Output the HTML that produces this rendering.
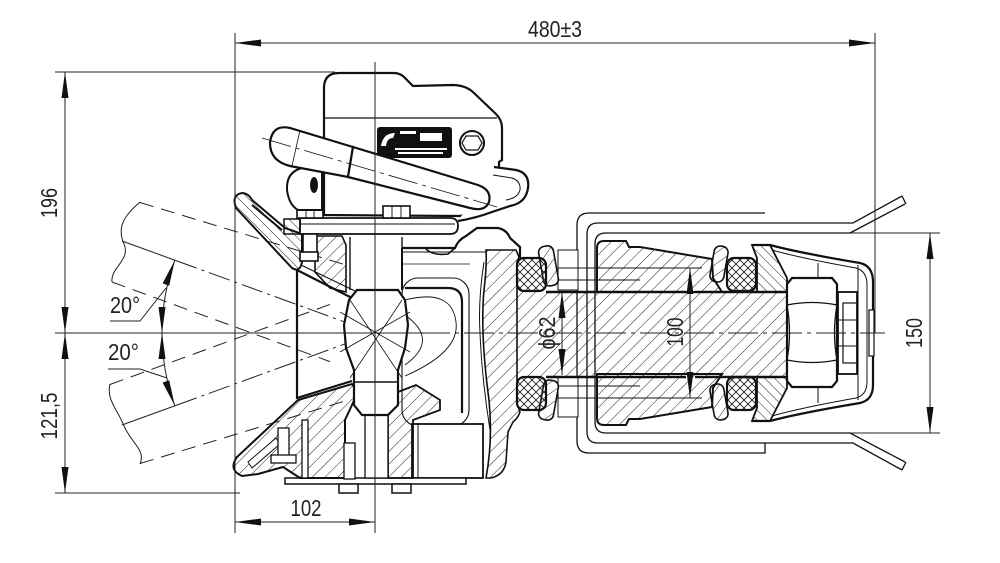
<!DOCTYPE html>
<html><head><meta charset="utf-8"><style>html,body{margin:0;padding:0;background:#fff}svg{display:block}</style></head>
<body>
<svg width="1000" height="563" viewBox="0 0 1000 563" xmlns="http://www.w3.org/2000/svg">
<defs>
<pattern id="h1" patternUnits="userSpaceOnUse" width="9" height="9" patternTransform="rotate(45)"><line x1="0" y1="0" x2="0" y2="9" stroke="#222" stroke-width="1"/></pattern>
<pattern id="h2" patternUnits="userSpaceOnUse" width="7" height="7" patternTransform="rotate(-45)"><line x1="0" y1="0" x2="0" y2="7" stroke="#222" stroke-width="1"/></pattern>
<pattern id="hx" patternUnits="userSpaceOnUse" width="8" height="8"><path d="M0 0L8 8M8 0L0 8" stroke="#222" stroke-width="0.9"/></pattern>
</defs>
<rect width="1000" height="563" fill="#fff"/>

<!-- drawbar ghost lines -->
<g stroke="#222" stroke-width="1" fill="none">
<path d="M140 202 C126 214 116 226 124 244 C131 260 110 268 112 282"/>
<path d="M110 384 C106 400 118 410 124 426 C132 444 146 450 140 464"/>
<g stroke-dasharray="14 8">
<line x1="140" y1="202.5" x2="345" y2="264.7"/>
<line x1="112" y1="282" x2="330" y2="361.6"/>
<line x1="110" y1="384.5" x2="330" y2="304.4"/>
<line x1="140" y1="463.5" x2="345" y2="401"/>
</g>
<line x1="122" y1="241" x2="176" y2="260.6"/>
<line x1="122" y1="425" x2="176" y2="405.4"/>
<g stroke-dasharray="22 5 3 5">
<line x1="176" y1="260.6" x2="375" y2="333"/>
<line x1="176" y1="405.4" x2="375" y2="333"/>
</g>
</g>

<!-- bracket U lines -->
<g stroke="#111" stroke-width="1.3" fill="none">
<path d="M765 213 L589 213 Q577 213 577 225 L577 441 Q577 453 589 453 L765 453 L765 443"/>
<path d="M765 223 L598 223 Q587 223 587 234 L587 432 Q587 443 598 443 L853 443 L902 470"/>
<path d="M765 223 L853 223 L902 196"/>
<path d="M850 233 L606 233 Q595 233 595 244 L595 422 Q595 433 606 433 L850 433 L905 462"/>
<path d="M850 233 L905 204"/>
<path d="M902 196 L906 204 M902 470 L906 462"/>
</g>

<!-- body top lip -->
<path d="M402 248 L455 248 Q458 240 466 236 L477 228 L498 228 Q507 230 510 238 L520 247 L520 258" fill="#fff" stroke="#111" stroke-width="2.2"/>
<path d="M425 248 Q432 256 448 254 L455 248" fill="none" stroke="#111" stroke-width="1.6"/>
<line x1="402" y1="252" x2="486" y2="252" stroke="#111" stroke-width="0.9"/>
<line x1="402" y1="248" x2="402" y2="290" stroke="#111" stroke-width="2"/>
<line x1="402" y1="264" x2="470" y2="264" stroke="#111" stroke-width="0.8"/>
<!-- body hatched -->
<path d="M486 250 L516 250 L519 257 L517 262 L517 404 L520 412 Q518 418 513 422 L508 432 L506 462 Q504 475 491 478 L486 478 Q493 440 489 400 Q480 333 484 290 Q487 265 486 250 Z" fill="url(#h1)" stroke="#111" stroke-width="1.6"/>
<path d="M484 262 Q478 300 480 333 Q482 380 490 430" fill="none" stroke="#111" stroke-width="1"/>
<!-- shaft -->
<rect x="517" y="292" width="272" height="85" fill="url(#h1)"/>
<!-- sleeves -->
<path d="M597 292 L597 248 Q597 241 604 241 L626 241 L629 247 L640 247 L712 259 L713 278 L722 292 Z" fill="url(#h1)" stroke="#111" stroke-width="2"/>
<path d="M597 374 L597 418 Q597 425 604 425 L626 425 L629 419 L640 419 L712 407 L713 388 L722 374 Z" fill="url(#h1)" stroke="#111" stroke-width="2"/>
<g fill="#fff" stroke="#111" stroke-width="1">
<rect x="558" y="250" width="20" height="40"/><rect x="558" y="377" width="20" height="40"/>
<line x1="558" y1="268" x2="702" y2="268"/><line x1="558" y1="280" x2="640" y2="280"/>
<line x1="558" y1="398" x2="702" y2="398"/><line x1="558" y1="386" x2="640" y2="386"/>
</g>
<g fill="url(#h1)" stroke="#111" stroke-width="1.6">
<rect x="541" y="246" width="15" height="40" rx="6" transform="rotate(-10 548 266)"/>
<rect x="541" y="380" width="15" height="40" rx="6" transform="rotate(10 548 400)"/>
<rect x="712" y="246" width="14" height="36" rx="6" transform="rotate(10 719 264)"/>
<rect x="712" y="384" width="14" height="36" rx="6" transform="rotate(-10 719 402)"/>
</g>
<!-- cone seats -->
<path d="M752 245 L770 245 L787 278 L787 292 L757 292 L757 258 Z" fill="url(#h2)" stroke="#111" stroke-width="1.8"/>
<path d="M752 421 L770 421 L787 388 L787 377 L757 377 L757 408 Z" fill="url(#h2)" stroke="#111" stroke-width="1.8"/>
<!-- rubber rings -->
<g fill="url(#hx)" stroke="#111" stroke-width="2.2">
<rect x="517" y="258" width="29" height="33" rx="7"/>
<rect x="517" y="377" width="29" height="33" rx="7"/>
<rect x="727" y="258" width="29" height="33" rx="7"/>
<rect x="727" y="377" width="29" height="33" rx="7"/>
</g>
<g stroke="#111" stroke-width="2.6">
<line x1="546" y1="292" x2="686" y2="292"/><line x1="695" y1="292" x2="789" y2="292"/>
<line x1="546" y1="377" x2="686" y2="377"/><line x1="695" y1="377" x2="789" y2="377"/>
</g>
<!-- cap -->
<path d="M752 245 L770 245 Q800 253 860 263 Q873 266 873 282 L873 385 Q873 400 860 403 Q800 413 770 421 L752 421" fill="none" stroke="#111" stroke-width="2.2"/>
<path d="M772 250 Q800 258 856 268 Q867 271 867 285 L867 382 Q867 395 856 398 Q800 408 772 416" fill="none" stroke="#111" stroke-width="1"/>
<g stroke="#111" stroke-width="1"><line x1="818" y1="263" x2="818" y2="403"/><line x1="858" y1="265" x2="858" y2="400"/></g>
<!-- nut -->
<path d="M792 278 L832 278 L837 284 L837 381 L832 387 L792 387 L787 381 L787 284 Z" fill="#fff" stroke="#111" stroke-width="2.2"/>
<path d="M787 305 Q812 300 837 305 M787 360 Q812 365 837 360 M787 305 Q792 333 787 360 M837 305 Q832 333 837 360" fill="none" stroke="#111" stroke-width="1.3"/>
<rect x="838" y="292" width="19" height="82" fill="#fff" stroke="#111" stroke-width="1.8"/>
<rect x="843" y="303" width="14" height="60" fill="none" stroke="#111" stroke-width="1.2"/>
<line x1="838" y1="320" x2="857" y2="320" stroke="#111"/><line x1="838" y1="346" x2="857" y2="346" stroke="#111"/>
<rect x="869" y="310" width="5" height="46" fill="#fff" stroke="#111" stroke-width="1.2"/>

<!-- pocket & block -->
<rect x="402" y="278" width="67" height="148" rx="16" fill="#fff" stroke="#111" stroke-width="1.1"/>
<path d="M405 288 L448 288 Q462 288 462 302 L462 413" fill="none" stroke="#111" stroke-width="2.2"/>
<path d="M405 300 Q452 288 456 322 Q460 352 405 376 M405 315 Q440 340 405 365" fill="none" stroke="#111" stroke-width="0.9"/>
<rect x="412" y="424" width="71" height="54" fill="#fff" stroke="#111" stroke-width="1.8"/>
<line x1="418" y1="424" x2="418" y2="478" stroke="#111"/>
<rect x="285" y="478" width="181" height="6" fill="#fff" stroke="#111" stroke-width="1.5"/>
<rect x="339" y="484" width="19" height="9" fill="#fff" stroke="#111" stroke-width="1.5"/>
<rect x="392" y="484" width="19" height="9" fill="#fff" stroke="#111" stroke-width="1.5"/>

<!-- lower jaw -->
<path d="M242 476 Q228 470 237 457 L298 400 L352 384 L358 392 L345 420 L345 478 L300 478 L283 467 L258 474 Z" fill="url(#h1)" stroke="#111" stroke-width="2"/>
<path d="M248 462 L276 438 L280 444 L252 468 Z" fill="#fff" stroke="#111" stroke-width="1"/>
<path d="M297 398 L352 381" stroke="#111" stroke-width="2.2"/>
<path d="M398 392 L416 385 L440 400 L440 410 L413 420 L413 478 L388 478 L388 415 Z" fill="url(#h1)" stroke="#111" stroke-width="1.8"/>
<g fill="#fff" stroke="#111" stroke-width="1.3">
<rect x="278" y="428" width="11" height="30"/><rect x="271" y="455" width="25" height="8"/>
<rect x="344" y="443" width="11" height="36"/>
<rect x="302" y="420" width="6" height="58"/>
<rect x="365" y="415" width="23" height="63"/>
</g>

<!-- upper jaw -->
<path d="M243 193 Q231 194 236 208 L292 268 Q300 273 302 262 L302 234 L285 228 L252 200 Q249 194 243 193 Z" fill="url(#h2)" stroke="#111" stroke-width="2"/>
<path d="M252 205 L282 230" stroke="#111" stroke-width="2"/>
<path d="M315 236 L342 236 L346 245 L346 292 L330 288 L315 272 Z" fill="url(#h1)" stroke="#111" stroke-width="1.6"/>
<path d="M297 270 L352 298" stroke="#111" stroke-width="2.2"/>
<path d="M301 265 L355 291" stroke="#111" stroke-width="1"/>
<line x1="297" y1="270" x2="297" y2="399" stroke="#111" stroke-width="2.2"/>

<!-- pin -->
<path d="M350 237 L350 290 M402 237 L402 248" stroke="#111" stroke-width="1.4"/>
<path d="M357 290 L398 290 L405 300 L408 325 L405 348 L398 370 L398 405 L388 415 L362 415 L354 405 L354 370 L346 348 L344 325 L349 300 Z" fill="#fff" stroke="#111" stroke-width="2.2"/>
<line x1="354" y1="382" x2="398" y2="382" stroke="#111" stroke-width="1.6"/>
<g stroke="#111" stroke-width="0.8">
<line x1="350" y1="300" x2="402" y2="378"/><line x1="402" y1="300" x2="350" y2="378"/>
<line x1="340" y1="312" x2="410" y2="352"/><line x1="410" y1="312" x2="340" y2="352"/>
</g>

<!-- housing -->
<path d="M324 215 L324 88 Q324 73 339 73 L394 73 Q401 73 406 79 L413 86 L452 85 Q466 85 474 93 L496 114 Q502 120 502 128 L502 160 L499 162 L499 205 L460 216 Z" fill="#fff" stroke="#111" stroke-width="2.2"/>
<path d="M494 167 L516 170 Q530 173 528 188 Q526 203 510 206 L492 212 Q476 218 458 221" fill="#fff" stroke="#111" stroke-width="2.2"/>
<path d="M493 175 L512 178 Q521 181 520 190 Q518 198 506 200" fill="none" stroke="#111" stroke-width="1"/>
<line x1="324" y1="118" x2="497" y2="118" stroke="#111" stroke-width="1.2"/>
<rect x="377" y="127" width="75" height="31" rx="3" fill="#111"/>
<g fill="#fff"><rect x="420" y="133" width="22" height="8"/><rect x="395" y="148" width="52" height="2"/><rect x="398" y="152" width="45" height="2"/><path d="M381 146 Q383 133 395 133 L393 138 Q387 138 386 146 Z"/><rect x="400" y="131" width="16" height="3"/></g>
<circle cx="472" cy="143" r="12" fill="#fff" stroke="#111" stroke-width="2"/>
<path d="M466 136 L478 136 L482 143 L478 150 L466 150 L462 143 Z" fill="none" stroke="#111" stroke-width="1.2"/>
<!-- plate -->
<path d="M300 218 L450 218 Q458 218 458 226 Q458 234 450 234 L300 234 Z" fill="#fff" stroke="#111" stroke-width="1.8"/>
<line x1="300" y1="224" x2="455" y2="224" stroke="#111" stroke-width="0.9"/>
<rect x="284" y="219" width="16" height="15" fill="url(#h2)" stroke="#111" stroke-width="1.5"/>
<g fill="#fff" stroke="#111" stroke-width="1.6">
<rect x="297" y="206" width="26" height="12"/><rect x="383" y="206" width="27" height="12"/>
<rect x="303" y="234" width="14" height="20"/><rect x="300" y="252" width="18" height="9"/>
</g>
<g stroke="#111" stroke-width="0.9"><line x1="306" y1="206" x2="306" y2="218"/><line x1="314" y1="206" x2="314" y2="218"/><line x1="392" y1="206" x2="392" y2="218"/><line x1="401" y1="206" x2="401" y2="218"/></g>
<!-- lug -->
<path d="M302 168 Q286 172 287 190 Q289 205 298 210 L322 210 L322 170 Z" fill="#fff" stroke="#111" stroke-width="2"/>
<ellipse cx="314" cy="185" rx="4" ry="8" fill="#111"/>
<!-- handle -->
<path d="M353 147 L290 128 Q272 124 270 143 Q270 161 290 166 L348 177 Z" fill="#fff" stroke="#111" stroke-width="2.2"/>
<path d="M353 147 L478 185 Q492 190 489 202 Q485 212 470 208 L348 177 Z" fill="#fff" stroke="#111" stroke-width="2.2"/>
<line x1="300" y1="130" x2="292" y2="166" stroke="#111" stroke-width="0.8"/>
<line x1="262" y1="138" x2="497" y2="207" stroke="#111" stroke-width="0.8" stroke-dasharray="30 5 4 5"/>

<!-- dimension & center lines -->
<g stroke="#222" stroke-width="1" fill="none">
<line x1="235" y1="43" x2="875" y2="43"/>
<line x1="235" y1="33" x2="235" y2="533"/>
<line x1="875" y1="33" x2="875" y2="333"/>
<line x1="55" y1="72" x2="335" y2="72"/>
<line x1="65" y1="72" x2="65" y2="493"/>
<line x1="55" y1="333" x2="420" y2="333"/>
<line x1="420" y1="333" x2="885" y2="333" stroke-dasharray="30 5 4 5"/>
<line x1="55" y1="493" x2="240" y2="493"/>
<line x1="235" y1="522" x2="375" y2="522"/>
<line x1="375" y1="62" x2="375" y2="533"/>
<line x1="930" y1="233" x2="930" y2="433"/>
<line x1="850" y1="233" x2="940" y2="233"/>
<line x1="850" y1="433" x2="940" y2="433"/>
<line x1="690" y1="268" x2="690" y2="398"/>
<line x1="562" y1="292" x2="562" y2="375"/>
<path d="M174.8 260.2 A213 213 0 0 0 162 333 A213 213 0 0 0 174.8 405.8"/>
<polyline points="110,321 140,321 166,288"/>
<polyline points="108,369 140,369 167,378"/>
</g>
<g fill="#111">
<polygon points="235,43 261,39.5 261,46.5"/>
<polygon points="875,43 849,39.5 849,46.5"/>
<polygon points="65,72 61.5,98 68.5,98"/>
<polygon points="65,333 61.5,307 68.5,307"/>
<polygon points="65,333 61.5,359 68.5,359"/>
<polygon points="65,493 61.5,467 68.5,467"/>
<polygon points="235,522 261,518.5 261,525.5"/>
<polygon points="375,522 349,518.5 349,525.5"/>
<polygon points="930,233 926.5,259 933.5,259"/>
<polygon points="930,433 926.5,407 933.5,407"/>
<polygon points="690,268 686.5,294 693.5,294"/>
<polygon points="690,398 686.5,372 693.5,372"/>
<polygon points="562,292 558.5,318 565.5,318"/>
<polygon points="562,375 558.5,349 565.5,349"/>
<polygon points="162,333 158.5,307 165.5,307"/>
<polygon points="162,333 158.5,359 165.5,359"/>
<polygon points="174.8,260.2 162.6,283.4 169.2,285.8"/>
<polygon points="174.8,405.8 162.6,382.6 169.2,380.2"/>
</g>

<g font-family="'Liberation Sans Narrow','Liberation Sans',sans-serif" font-size="23" fill="#222">
<text x="555" y="37" text-anchor="middle" textLength="54" lengthAdjust="spacingAndGlyphs">480±3</text>
<text transform="translate(57,203) rotate(-90)" text-anchor="middle" textLength="30" lengthAdjust="spacingAndGlyphs">196</text>
<text transform="translate(57,416) rotate(-90)" text-anchor="middle" textLength="47" lengthAdjust="spacingAndGlyphs">121,5</text>
<text x="306" y="516" text-anchor="middle" textLength="31" lengthAdjust="spacingAndGlyphs">102</text>
<text x="110" y="313" textLength="30" lengthAdjust="spacingAndGlyphs">20°</text>
<text x="108" y="360" textLength="31" lengthAdjust="spacingAndGlyphs">20°</text>
<text transform="translate(555,333) rotate(-90)" text-anchor="middle" textLength="33" lengthAdjust="spacingAndGlyphs">ϕ62</text>
<text transform="translate(683,332) rotate(-90)" text-anchor="middle" textLength="29" lengthAdjust="spacingAndGlyphs">100</text>
<text transform="translate(922,333) rotate(-90)" text-anchor="middle" textLength="30" lengthAdjust="spacingAndGlyphs">150</text>
</g>
</svg>
</body></html>
